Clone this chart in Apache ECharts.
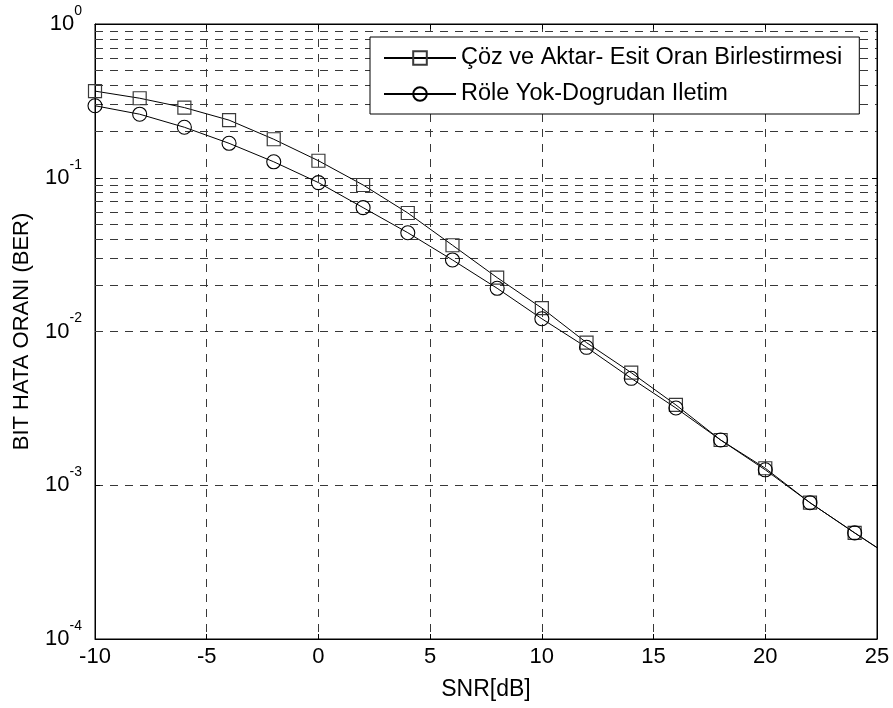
<!DOCTYPE html>
<html>
<head>
<meta charset="utf-8">
<script src="https://cdn.jsdelivr.net/npm/echarts@6/dist/echarts.min.js"></script>
<style>
html,body{margin:0;padding:0;background:#fff;}
#c{width:893px;height:708px;}
</style>
</head>
<body>
<div id="c"></div>
<script>
// ---- data ----
var snr = [-10, -8, -6, -4, -2, 0, 2, 4, 6, 8, 10, 12, 14, 16, 18, 20, 22, 24];
var berCoz = [0.366, 0.329, 0.286, 0.237, 0.178, 0.129, 0.0897, 0.059, 0.0364, 0.0224, 0.0142, 0.00846, 0.0054, 0.00333, 0.00197, 0.00129, 0.00077, 0.00049];
var berRole = [0.294, 0.259, 0.213, 0.1675, 0.127, 0.093, 0.0639, 0.0439, 0.0292, 0.0191, 0.0121, 0.00789, 0.00496, 0.00318, 0.00197, 0.00126, 0.00077, 0.00049];
var lineEndX = 25;
var lineEndCoz = 0.000393;
var lineEndRole = 0.000393;
var seriesNames = ['Çöz ve Aktar- Esit Oran Birlestirmesi', 'Röle Yok-Dogrudan Iletim'];
var xTicks = [-10, -5, 0, 5, 10, 15, 20, 25];
var yDecades = [-4, -3, -2, -1, 0];
var minorMult = [2, 3, 4, 5, 6, 7, 8, 9];

// ---- build ----
function buildData(ys, endY) {
  var d = snr.map(function (x, i) { return [x, ys[i]]; });
  d.push({ value: [lineEndX, endY], symbol: 'none' });
  return d;
}
var minorLines = [];
yDecades.slice(0, 4).forEach(function (e) {
  minorMult.forEach(function (m) { minorLines.push({ yAxis: m * Math.pow(10, e) }); });
});

var FONT = 'Liberation Sans';
var dash = { color: '#383838', width: 1, type: [8, 7] };

var chart = echarts.init(document.getElementById('c'), null, { renderer: 'canvas' });
chart.setOption({
  animation: false,
  backgroundColor: '#fff',
  textStyle: { fontFamily: FONT, color: '#000' },
  grid: { left: 95, right: 16, top: 24, bottom: 69, show: true, borderColor: '#000', borderWidth: 1, backgroundColor: 'transparent' },
  legend: {
    data: seriesNames,
    left: 370, top: 37, z: 20,
    orient: 'vertical',
    backgroundColor: '#fff',
    borderColor: '#000', borderWidth: 1,
    padding: [9, 17, 8, 13],
    itemWidth: 72, itemHeight: 17, itemGap: 12,
    textStyle: { fontFamily: FONT, fontSize: 23.5, color: '#000', padding: [0, 0, 0, 0] },
    itemStyle: { color: 'transparent' }
  },
  xAxis: [{
    type: 'value', min: -10, max: 25, interval: 5,
    name: 'SNR[dB]', nameLocation: 'middle', nameGap: 39,
    nameTextStyle: { fontFamily: FONT, fontSize: 23, color: '#000' },
    axisLine: { show: true, onZero: false, lineStyle: { color: '#000', width: 1 } },
    axisTick: { show: true, inside: true, length: 5, lineStyle: { color: '#000' } },
    axisLabel: { fontFamily: FONT, fontSize: 22, color: '#000', margin: 7, formatter: function (v) { return xTicks.indexOf(v) >= 0 ? String(v) : ''; } },
    splitLine: { show: true, lineStyle: dash }
  }, {
    type: 'value', min: -10, max: 25, interval: 5, position: 'top',
    axisLine: { show: true, onZero: false, lineStyle: { color: '#000', width: 1 } },
    axisTick: { show: true, inside: true, length: 5, lineStyle: { color: '#000' } },
    axisLabel: { show: false }, splitLine: { show: false }
  }],
  yAxis: [{
    type: 'log', logBase: 10, min: 1e-4, max: 1,
    name: 'BIT HATA ORANI (BER)', nameLocation: 'middle', nameGap: 62,
    nameTextStyle: { fontFamily: FONT, fontSize: 22, color: '#000' },
    axisLine: { show: true, onZero: false, lineStyle: { color: '#000', width: 1 } },
    axisTick: { show: true, inside: true, length: 5, lineStyle: { color: '#000' } },
    axisLabel: {
      margin: 13,
      formatter: function (v) {
        var e = Math.round(Math.log10(v));
        return '{b|10}{s|' + e + '}';
      },
      rich: {
        b: { fontFamily: FONT, fontSize: 22, color: '#000', lineHeight: 40, verticalAlign: 'middle' },
        s: { fontFamily: FONT, fontSize: 14, color: '#000', lineHeight: 14, verticalAlign: 'top' }
      }
    },
    splitLine: { show: true, lineStyle: dash }
  }, {
    type: 'log', logBase: 10, min: 1e-4, max: 1, position: 'right',
    axisLine: { show: true, onZero: false, lineStyle: { color: '#000', width: 1 } },
    axisTick: { show: true, inside: true, length: 5, lineStyle: { color: '#000' } },
    axisLabel: { show: false }, splitLine: { show: false }
  }],
  series: [{
    name: '_grid', type: 'line', z: 1, silent: true,
    data: snr.map(function (x, i) { return [x, berCoz[i]]; }),
    symbol: 'none', lineStyle: { width: 0, opacity: 0 },
    markLine: { z: 1, silent: true, symbol: ['none', 'none'], label: { show: false }, lineStyle: dash, emphasis: { disabled: true }, data: minorLines, animation: false }
  }, {
    name: seriesNames[0], type: 'line', z: 3,
    data: buildData(berCoz, lineEndCoz),
    symbol: 'rect', symbolSize: 13,
    lineStyle: { color: '#000', width: 1 },
    itemStyle: { color: 'transparent', borderColor: '#3a3a3a', borderWidth: 1.2 },
    emphasis: { disabled: true }
  }, {
    name: seriesNames[1], type: 'line', z: 3,
    data: buildData(berRole, lineEndRole),
    symbol: 'circle', symbolSize: 14,
    lineStyle: { color: '#000', width: 1 },
    itemStyle: { color: 'transparent', borderColor: '#000', borderWidth: 1.1 },
    emphasis: { disabled: true }
  }]
});
</script>
</body>
</html>
